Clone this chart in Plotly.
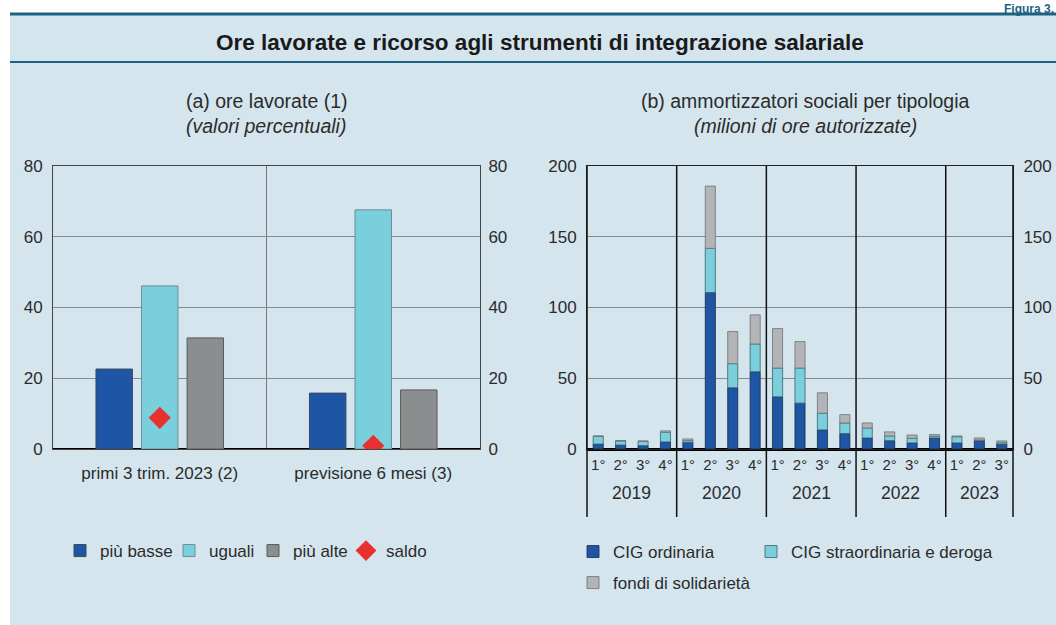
import numpy as np
import plotly.graph_objects as go

# --- panel (a): ore lavorate (valori percentuali) ---
periodi = ["primi 3 trim. 2023 (2)", "previsione 6 mesi (3)"]
piu_basse = [22.6, 15.8]
uguali = [46.1, 67.6]
piu_alte = [31.4, 16.7]
saldo = [8.8, 0.9]

# --- panel (b): ammortizzatori sociali (milioni di ore autorizzate) ---
anni = ["2019"] * 4 + ["2020"] * 4 + ["2021"] * 4 + ["2022"] * 4 + ["2023"] * 3
trimestri = ["1°", "2°", "3°", "4°"] * 4 + ["1°", "2°", "3°"]
cig_ordinaria = [3.5, 2.8, 2.4, 5.0, 4.7, 110.6, 43.3, 54.6, 36.9, 32.4, 13.5,
                 10.9, 7.8, 5.9, 4.3, 7.8, 4.3, 5.8, 3.5]
cig_straordinaria = [5.5, 2.9, 3.0, 6.8, 1.2, 31.2, 17.0, 19.6, 20.3, 24.8, 11.8,
                     7.5, 7.1, 3.3, 3.3, 1.2, 4.4, 0.6, 1.0]
fondi_solidarieta = [0.2, 0.3, 0.3, 1.0, 1.2, 44.0, 22.7, 20.6, 27.9, 18.7, 14.4,
                     5.9, 3.5, 2.9, 2.3, 1.2, 0.5, 1.4, 1.2]

FONT = "Liberation Sans, Arial, sans-serif"
TXT = "#2b2b2b"
BLU = "#1f55a5"
AZZURRO = "#7acfdc"
GRIGIO = "#8b8e8e"
GRIGIO_CHIARO = "#b2b4b5"
PANEL = "#d4e5ee"
TEAL = "#1d6283"

W, H = 1056, 625


def px_x(v):
    return v / W


def px_y(v):
    return 1 - v / H


fig = go.Figure()

# panel (a) bars, one legend box per entry so they sit where the original has them
for name, vals, col, lcol, leg in [("più basse", piu_basse, BLU, "#3a4a60", "legend"),
                                   ("uguali", uguali, AZZURRO, "#6a8f96", "legend2"),
                                   ("più alte", piu_alte, GRIGIO, "#5a5c5c", "legend3")]:
    fig.add_trace(go.Bar(x=periodi, y=vals, name=name, marker_color=col,
                         marker_line=dict(color=lcol, width=1),
                         xaxis="x", yaxis="y", legend=leg))
fig.add_trace(go.Scatter(x=periodi, y=saldo, name="saldo", mode="markers",
                         marker=dict(symbol="diamond", size=17, color="#e8302e"),
                         xaxis="x", yaxis="y", legend="legend4"))
# right-hand mirror axis for panel (a)
fig.add_trace(go.Scatter(x=[periodi[0]], y=[0], mode="markers", marker_opacity=0,
                         showlegend=False, hoverinfo="skip", xaxis="x", yaxis="y2"))

# panel (b) stacked bars (bases from cumulative sums)
trim_id = [f"{a} {q}" for a, q in zip(anni, trimestri)]
base_str = np.array(cig_ordinaria)
base_fondi = base_str + np.array(cig_straordinaria)
for name, vals, base, col, lcol, leg in [
        ("CIG ordinaria", cig_ordinaria, None, BLU, "#1a2a40", "legend5"),
        ("CIG straordinaria e deroga", cig_straordinaria, base_str, AZZURRO, "#3d5f66", "legend6"),
        ("fondi di solidarietà", fondi_solidarieta, base_fondi, GRIGIO_CHIARO, "#6f7172", "legend7")]:
    fig.add_trace(go.Bar(x=trim_id, y=vals, base=base, name=name, marker_color=col,
                         marker_line=dict(color=lcol, width=0.8), offsetgroup="q", width=0.45,
                         xaxis="x3", yaxis="y3", legend=leg))
fig.add_trace(go.Scatter(x=[trim_id[0]], y=[0], mode="markers",
                         marker_opacity=0, showlegend=False, hoverinfo="skip",
                         xaxis="x3", yaxis="y4"))

tick_font = dict(family=FONT, size=17, color=TXT)
dom_y = [px_y(449), px_y(166)]

fig.update_layout(
    width=W, height=H, template="none",
    margin=dict(l=0, r=0, t=0, b=0),
    paper_bgcolor="white", plot_bgcolor="white",
    font=dict(family=FONT, color=TXT),
    barmode="group", bargap=0.36, bargroupgap=0.2,
    xaxis=dict(domain=[px_x(53), px_x(480)], type="category", tickfont=tick_font,
               showgrid=False, showline=True, linecolor="#444", linewidth=1, mirror=True,
               ticks="outside", ticklen=9, tickcolor="rgba(0,0,0,0)", automargin=False),
    yaxis=dict(domain=dom_y, range=[0, 80], dtick=20, tickfont=tick_font,
               showgrid=True, gridcolor="#8a8a8a", gridwidth=1,
               zeroline=True, zerolinecolor="black", zerolinewidth=2,
               showline=True, linecolor="#444", linewidth=1, mirror=True,
               ticks="outside", ticklen=6, tickcolor="rgba(0,0,0,0)", automargin=False),
    yaxis2=dict(overlaying="y", side="right", anchor="x", range=[0, 80], dtick=20,
                tickfont=tick_font, showgrid=False, zeroline=False, showline=False,
                ticks="outside", ticklen=4, tickcolor="rgba(0,0,0,0)", automargin=False),
    xaxis3=dict(domain=[px_x(587), px_x(1013)], anchor="y3", type="category",
                range=[-0.5, len(trim_id) - 0.5],
                tickvals=trim_id, ticktext=trimestri, tickangle=0,
                tickfont=dict(family=FONT, size=15, color=TXT),
                showgrid=False, showline=True, linecolor="#222", linewidth=1, mirror=True,
                ticks="outside", ticklen=2, tickcolor="rgba(0,0,0,0)", automargin=False),
    yaxis3=dict(domain=dom_y, anchor="x3", range=[0, 200], dtick=50, tickfont=tick_font,
                showgrid=True, gridcolor="#8a8a8a", gridwidth=1,
                zeroline=True, zerolinecolor="black", zerolinewidth=2.5,
                showline=True, linecolor="#222", linewidth=1, mirror=True,
                ticks="outside", ticklen=6, tickcolor="rgba(0,0,0,0)", automargin=False),
    yaxis4=dict(overlaying="y3", side="right", anchor="x3", range=[0, 200], dtick=50,
                tickfont=tick_font, showgrid=False, zeroline=False, showline=False,
                ticks="outside", ticklen=6, tickcolor="rgba(0,0,0,0)", automargin=False),
)

# legend boxes: (text start x, centre y)
legend_pos = {"legend": (99, 551), "legend2": (208, 551), "legend3": (292, 551),
              "legend4": (385, 551), "legend5": (612, 552), "legend6": (790, 552),
              "legend7": (612, 583)}
for key, (tx, ty) in legend_pos.items():
    fig.update_layout({key: dict(orientation="h", x=px_x(tx - 39), y=px_y(ty),
                                 xanchor="left", yanchor="middle", bgcolor="rgba(0,0,0,0)",
                                 font=dict(family=FONT, size=17, color=TXT), itemwidth=30)})

shapes = [
    dict(type="rect", xref="paper", yref="paper", x0=px_x(10), x1=1, y0=0, y1=px_y(14),
         fillcolor=PANEL, line_width=0, layer="below"),
    dict(type="line", xref="paper", yref="paper", x0=px_x(10), x1=1, y0=px_y(14), y1=px_y(14),
         line=dict(color=TEAL, width=3)),
    dict(type="line", xref="paper", yref="paper", x0=px_x(10), x1=1, y0=px_y(62), y1=px_y(62),
         line=dict(color=TEAL, width=2)),
    dict(type="line", xref="x domain", yref="y domain", x0=0.5, x1=0.5, y0=0, y1=1,
         line=dict(color="#777", width=1), layer="below"),
]

# year separators (inside the plot and down through the tick labels) and year labels
n_q = len(anni)
ann = []
start = 0
for i in range(1, n_q + 1):
    if i == n_q or anni[i] != anni[start]:
        ann.append(dict(text=anni[start], xref="x3", x=(start + i - 1) / 2, y=px_y(493),
                        font=dict(size=17.5, color=TXT)))
        start = i
for k in range(n_q + 1):
    if k in (0, n_q) or anni[k] != anni[k - 1]:
        shapes.append(dict(type="line", xref="x3 domain", yref="paper", x0=k / n_q, x1=k / n_q,
                           y0=px_y(517), y1=px_y(166), line=dict(color="#111", width=1.5)))
fig.update_layout(shapes=shapes)

ann += [
    dict(text="<b>Ore lavorate e ricorso agli strumenti di integrazione salariale</b>",
         x=px_x(540), y=px_y(42), font=dict(size=22.5, color="#1a1a1a")),
    dict(text="<b>Figura 3.</b>", x=1, xanchor="right", y=1, yanchor="top",
         font=dict(size=12, color=TEAL)),
    dict(text="(a) ore lavorate (1)", x=px_x(266), y=px_y(101), font=dict(size=19.5, color=TXT)),
    dict(text="<i>(valori percentuali)</i>", x=px_x(266), y=px_y(126), font=dict(size=19.5, color=TXT)),
    dict(text="(b) ammortizzatori sociali per tipologia", x=px_x(805), y=px_y(101),
         font=dict(size=19.5, color=TXT)),
    dict(text="<i>(milioni di ore autorizzate)</i>", x=px_x(805), y=px_y(126),
         font=dict(size=19.5, color=TXT)),
]
for a in ann:
    a.setdefault("xref", "paper")
    a.update(yref="paper", showarrow=False)
    a.setdefault("xanchor", "center")
    a.setdefault("yanchor", "middle")
    a["font"]["family"] = FONT
fig.update_layout(annotations=ann)

fig.write_html("out.html", config={"displayModeBar": False},
               post_script="document.body.style.margin='0';")
